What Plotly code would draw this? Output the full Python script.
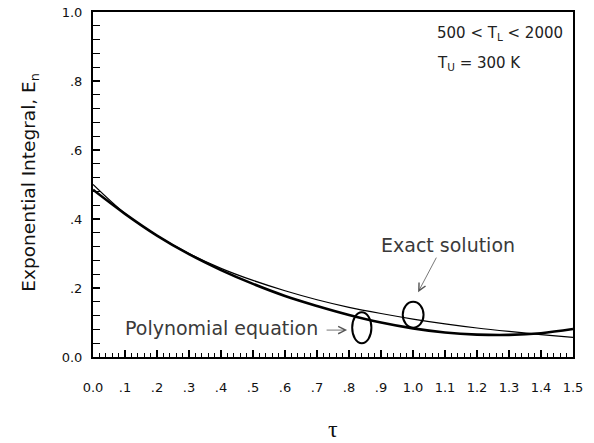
import plotly.graph_objects as go

tau = [0.0, 0.1, 0.2, 0.3, 0.4, 0.5, 0.6, 0.7, 0.8, 0.9, 1.0, 1.1, 1.2, 1.3, 1.4, 1.5]
exact_solution = [0.500, 0.416, 0.352, 0.300, 0.257, 0.222, 0.192, 0.166, 0.144, 0.126,
                  0.110, 0.096, 0.084, 0.074, 0.065, 0.057]
polynomial_eq = [0.485, 0.415, 0.352, 0.298, 0.252, 0.212, 0.177, 0.148, 0.122, 0.100,
                 0.083, 0.071, 0.065, 0.064, 0.069, 0.081]

x_ticks = [0.0, 0.1, 0.2, 0.3, 0.4, 0.5, 0.6, 0.7, 0.8, 0.9, 1.0, 1.1, 1.2, 1.3, 1.4, 1.5]
x_labels = ["0.0", ".1", ".2", ".3", ".4", ".5", ".6", ".7", ".8", ".9",
            "1.0", "1.1", "1.2", "1.3", "1.4", "1.5"]
y_ticks = [0.0, 0.2, 0.4, 0.6, 0.8, 1.0]
y_labels = ["0.0", ".2", ".4", ".6", ".8", "1.0"]

FONT = "DejaVu Sans"

fig = go.Figure()
fig.add_trace(go.Scatter(x=tau, y=exact_solution, mode="lines",
                         line=dict(color="black", width=1.2, shape="spline"),
                         name="Exact solution", showlegend=False))
fig.add_trace(go.Scatter(x=tau, y=polynomial_eq, mode="lines",
                         line=dict(color="black", width=2.6, shape="spline"),
                         name="Polynomial equation", showlegend=False))

# ellipses
fig.add_shape(type="circle", xref="x", yref="y", x0=0.81, x1=0.87, y0=0.040, y1=0.130,
              line=dict(color="black", width=2))
fig.add_shape(type="circle", xref="x", yref="y", x0=0.968, x1=1.033, y0=0.085, y1=0.160,
              line=dict(color="black", width=2))

ann_font = dict(family=FONT, size=19, color="#3a3a3a")
fig.add_annotation(x=1.109, y=0.325, xref="x", yref="y", text="Exact solution",
                   showarrow=False, font=ann_font)
fig.add_annotation(x=1.016, y=0.188, xref="x", yref="y", text="", showarrow=True,
                   ax=19, ay=-36, arrowhead=5, arrowsize=1.8, arrowwidth=0.8,
                   arrowcolor="#555")
fig.add_annotation(x=0.402, y=0.084, xref="x", yref="y", text="Polynomial equation",
                   showarrow=False, font=ann_font)
fig.add_annotation(x=0.794, y=0.078, xref="x", yref="y", text="", showarrow=True,
                   ax=-22, ay=0, arrowhead=5, arrowsize=1.8, arrowwidth=0.8,
                   arrowcolor="#555")

small_font = dict(family=FONT, size=15, color="#222")
fig.add_annotation(x=1.069, y=0.939, xref="x", yref="y", xanchor="left",
                   text="500 < T<sub>L</sub> < 2000", showarrow=False, font=small_font)
fig.add_annotation(x=1.069, y=0.852, xref="x", yref="y", xanchor="left",
                   text="T<sub>U</sub> = 300 K", showarrow=False, font=small_font)

# axis titles
fig.add_annotation(x=0.5, y=-0.252, xref="paper", yref="paper", text="τ",
                   showarrow=False, font=dict(family="Liberation Serif", size=24, color="#111"))
fig.add_annotation(x=-0.16, y=0.506, xref="paper", yref="paper", textangle=-90,
                   text="Exponential Integral, E<sub>n</sub>", showarrow=False,
                   font=dict(family=FONT, size=18.5, color="#111"))

fig.update_xaxes(range=[0, 1.5], tickmode="array", tickvals=x_ticks, ticktext=x_labels,
                 ticks="inside", ticklen=7, tickwidth=1.5, tickcolor="black",
                 minor=dict(dtick=0.02, ticks="inside", ticklen=4, tickwidth=1.2, tickcolor="black"),
                 showline=True, linewidth=2, linecolor="black", mirror=True,
                 showgrid=False, zeroline=False, ticklabelstandoff=17, automargin=False,
                 tickfont=dict(family=FONT, size=13, color="#111"))
fig.update_yaxes(range=[0, 1.0], tickmode="array", tickvals=y_ticks, ticktext=y_labels,
                 ticks="inside", ticklen=7, tickwidth=1.5, tickcolor="black",
                 minor=dict(dtick=0.04, ticks="inside", ticklen=7, tickwidth=1.2, tickcolor="black"),
                 showline=True, linewidth=2, linecolor="black", mirror=True,
                 showgrid=False, zeroline=False, ticklabelstandoff=6, automargin=False,
                 tickfont=dict(family=FONT, size=13, color="#111"))

fig.update_layout(width=594, height=443, margin=dict(l=93, r=21, t=12, b=86),
                  plot_bgcolor="white", paper_bgcolor="white", showlegend=False)

fig.write_html("out.html")
